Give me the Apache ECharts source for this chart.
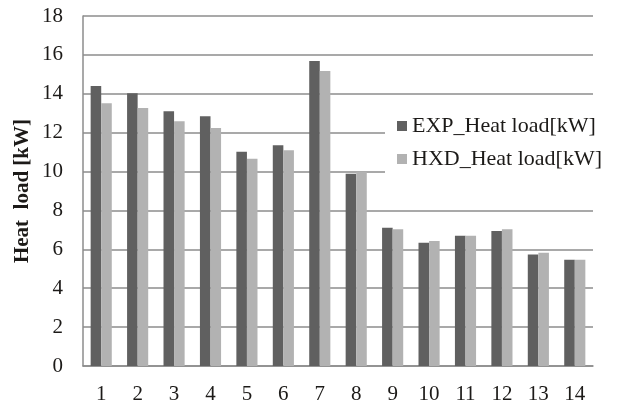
<!DOCTYPE html>
<html>
<head>
<meta charset="utf-8">
<style>
  html, body { margin: 0; padding: 0; background: #fff; }
  #chart { width: 617px; height: 405px; }
</style>
<script src="https://cdn.jsdelivr.net/npm/echarts@6/dist/echarts.min.js"></script>
</head>
<body>
<div id="chart"></div>
<script>
// Case numbers on the horizontal axis
const categories = ['1', '2', '3', '4', '5', '6', '7', '8', '9', '10', '11', '12', '13', '14'];
// Measured heat load per case [kW]
const expHeatLoad = [14.4, 14.03, 13.1, 12.84, 11.02, 11.35, 15.69, 9.89, 7.11, 6.34, 6.7, 6.94, 5.74, 5.47];
// Heat exchanger design calculation per case [kW]
const hxdHeatLoad = [13.51, 13.27, 12.59, 12.24, 10.66, 11.09, 15.17, 9.99, 7.03, 6.43, 6.7, 7.03, 5.83, 5.47];
const seriesNames = ['EXP_Heat load[kW]', 'HXD_Heat load[kW]'];

const serif = "'Liberation Serif', 'Times New Roman', serif";
const gridColor = '#8c8c8c';
const textColor = '#1c1a18';

const chart = echarts.init(document.getElementById('chart'), null, { renderer: 'canvas' });

chart.setOption({
  animation: false,
  backgroundColor: '#ffffff',
  grid: { left: 83, right: 24, top: 16, bottom: 39, containLabel: false },
  legend: {
    orient: 'vertical',
    left: 385,
    top: 100,
    padding: [15, 10, 10, 12],
    backgroundColor: '#ffffff',
    itemWidth: 10,
    itemHeight: 10,
    itemGap: 11,
    icon: 'rect',
    data: seriesNames,
    textStyle: { fontFamily: serif, fontSize: 22, lineHeight: 22, color: textColor }
  },
  xAxis: {
    type: 'category',
    data: categories,
    axisLine: { show: true, lineStyle: { color: gridColor, width: 1.5 } },
    axisTick: { show: false },
    axisLabel: { fontFamily: serif, fontSize: 21, color: textColor, margin: 18 }
  },
  yAxis: {
    type: 'value',
    min: 0,
    max: 18,
    interval: 2,
    name: 'Heat  load [kW]',
    nameLocation: 'middle',
    nameRotate: 90,
    nameGap: 50,
    nameMoveOverlap: false,
    nameTextStyle: { fontFamily: serif, fontSize: 21, fontWeight: 'bold', color: textColor },
    axisLine: { show: true, lineStyle: { color: gridColor, width: 1.5 } },
    axisTick: { show: false },
    splitLine: { show: true, lineStyle: { color: gridColor, width: 1.5 } },
    axisLabel: { fontFamily: serif, fontSize: 21, color: textColor, margin: 20 }
  },
  series: [
    {
      name: seriesNames[0],
      type: 'bar',
      data: expHeatLoad,
      barGap: '0%',
      barCategoryGap: '42%',
      itemStyle: { color: '#606060' }
    },
    {
      name: seriesNames[1],
      type: 'bar',
      data: hxdHeatLoad,
      barGap: '0%',
      barCategoryGap: '42%',
      itemStyle: { color: '#b2b2b2' }
    }
  ]
});
</script>
</body>
</html>
